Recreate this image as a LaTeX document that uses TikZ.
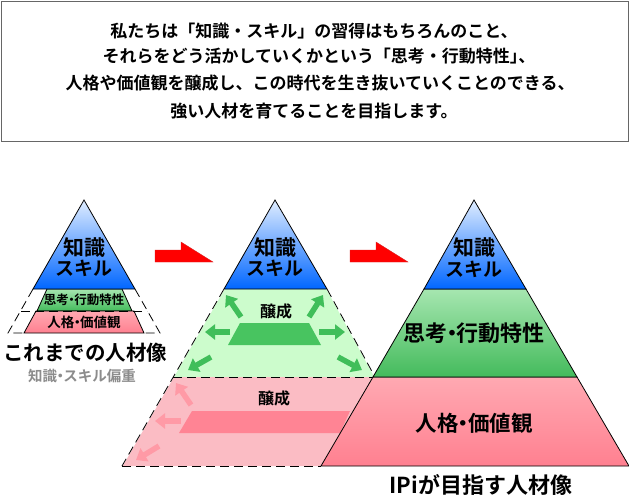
\documentclass[tikz,border=0pt]{standalone}
\usepackage{fontspec}
\usetikzlibrary{arrows.meta}
\setmainfont{Noto Sans CJK JP}[BoldFont={Noto Sans CJK JP Bold}]
\newcommand{\nd}{\kern-.28em ・\kern-.28em }
\newcommand{\jsize}[1]{\fontsize{#1}{#1}\selectfont\bfseries}
\definecolor{bluetop}{HTML}{E0EDFF}
\definecolor{bluebot}{HTML}{0066FF}
\definecolor{greentop}{HTML}{A6E6B0}
\definecolor{greenbot}{HTML}{44BB5C}
\definecolor{redtop}{HTML}{FFA9B2}
\definecolor{redbot}{HTML}{FF8090}
\definecolor{lightgreen}{HTML}{CCFCCC}
\definecolor{lightpink}{HTML}{FBBCC4}
\definecolor{midgreen}{HTML}{48C460}
\definecolor{midpink}{HTML}{FF8494}
\definecolor{arrowgreen}{HTML}{40BE5A}
\definecolor{arrowpink}{HTML}{FF9AA6}
\definecolor{redarrow}{HTML}{FF0000}
\definecolor{graytext}{HTML}{8C8C8C}
\tikzset{
  bluelayer/.style={draw=black,line width=.8pt,line join=miter,top color=bluetop,bottom color=bluebot},
  greenlayer/.style={draw=black,line width=.8pt,top color=greentop,bottom color=greenbot},
  redlayer/.style={draw=black,line width=.8pt,top color=redtop,bottom color=redbot},
  dashline/.style={draw=black,line width=.8pt,dash pattern=on 9pt off 5pt},
  bigarrow/.style={fill=redarrow,draw=redarrow!70!gray,line width=.4pt},
  garrow/.style={draw=arrowgreen,line width=5.5pt,-{Triangle[length=10pt,width=15pt]}},
  parrow/.style={draw=arrowpink,line width=5.5pt,-{Triangle[length=10pt,width=15pt]}},
  label/.style={inner sep=0pt,align=center,text=black},
}
\begin{document}
\begin{tikzpicture}[x=1pt,y=-1pt]
\useasboundingbox (0,0) rectangle (629,498);
\fill[white] (0,0) rectangle (629,498);
% top box
\node[draw=black!60,line width=1pt,minimum width=627pt,minimum height=140pt,inner sep=0pt,anchor=north west] (box) at (1,1) {};
\node[label] (t1) at (314,31) {\jsize{17}私たちは「知識・スキル」の習得はもちろんのこと、};
\node[label] (t2) at (319,56) {\jsize{17}それらをどう活かしていくかという「思考・行動特性」\kern-.5em 、};
\node[label] (t3) at (320,83) {\jsize{17}人格や価値観を醸成し、この時代を生き抜いていくことのできる、};
\node[label] (t4) at (314,111) {\jsize{17}強い人材を育てることを目指します。};
% left pyramid
\path[greenlayer] (47,289) -- (122,289) -- (132,311) -- (37,311) -- cycle;
\path[redlayer] (36,311) -- (134,311) -- (144,333) -- (24,333) -- cycle;
\path[bluelayer] (84,200) -- (135,289) -- (33,289) -- cycle;
\draw[dashline] (33,289) -- (8,333) -- (24,333);
\draw[dashline] (135,289) -- (160,333) -- (144,333);
\draw[dashline] (21,311) -- (147,311);
\node[label] (l1) at (84,248) {\jsize{21}知識};
\node[label] (l2) at (84,268) {\jsize{19}スキル};
\node[label] (l3) at (84,300) {\jsize{12.5}思考\nd 行動特性};
\node[label] (l4) at (84,322) {\jsize{13.5}人格\nd 価値観};
\node[label] (l5) at (85,353) {\jsize{20.5}これまでの人材像};
\node[label,text=graytext] (l6) at (82,376) {\jsize{14.5}知識\nd スキル偏重};
% middle pyramid
\fill[lightgreen] (224,289) -- (327,289) -- (375,377) -- (173,377) -- cycle;
\fill[lightpink] (173,377) -- (375,377) -- (321,466) -- (122,466) -- cycle;
\fill[midgreen] (240,323) -- (309,323) -- (321,345) -- (228,345) -- cycle;
\fill[midpink] (192,411) -- (350,411) -- (340,433) -- (179,433) -- cycle;
\path[bluelayer] (275,200) -- (327,289) -- (224,289) -- cycle;
\draw[white,line width=1pt] (327,289) -- (375,377);
\draw[white,line width=1pt] (224,289) -- (122,466);
\draw[dashline] (327,289) -- (375,377);
\draw[dashline] (224,289) -- (122,466);
\draw[dashline] (173,377) -- (375,377);
\draw[dashline] (122,466) -- (321,466);
\foreach \n/\ax/\ay/\bx/\by in {a/241/317/226/295,b/309/317/323/295,c/230/332/205/332,d/319/332/345/332,e/211/357/188/370,f/338/357/362/370}{
  \coordinate (gs\n) at (\ax,\ay);
  \coordinate (ge\n) at (\bx,\by);
  \draw[garrow] (gs\n) -- (ge\n);
}
\foreach \n/\ax/\ay/\bx/\by in {a/191/405/176/383,b/181/421/155/421,c/159/446/136/460}{
  \coordinate (ps\n) at (\ax,\ay);
  \coordinate (pe\n) at (\bx,\by);
  \draw[parrow] (ps\n) -- (pe\n);
}
\node[label] (m1) at (275,248) {\jsize{21}知識};
\node[label] (m2) at (275,268) {\jsize{19}スキル};
\node[label] (m3) at (276,311) {\jsize{16}醸成};
\node[label] (m4) at (274,398) {\jsize{16}醸成};
% right pyramid
\path[redlayer] (373,377) -- (577,377) -- (629,466) -- (321,466) -- cycle;
\path[greenlayer] (424,289) -- (526,289) -- (577,377) -- (373,377) -- cycle;
\path[bluelayer] (474,200) -- (526,289) -- (424,289) -- cycle;
\node[label] (r1) at (474,248) {\jsize{21}知識};
\node[label] (r2) at (474,269) {\jsize{19}スキル};
\node[label] (r3) at (474,333) {\jsize{22}思考\nd 行動特性};
\node[label] (r4) at (474,423) {\jsize{21.5}人格\nd 価値観};
\node[label] (r5) at (481,485) {\jsize{22}IPiが目指す人材像};
% red arrows
\path[bigarrow] (155,250) -- (181,250) -- (181,242) -- (213,262) -- (155,262) -- cycle;
\path[bigarrow] (350,250) -- (376,250) -- (376,242) -- (408,262) -- (350,262) -- cycle;
\end{tikzpicture}
\end{document}
